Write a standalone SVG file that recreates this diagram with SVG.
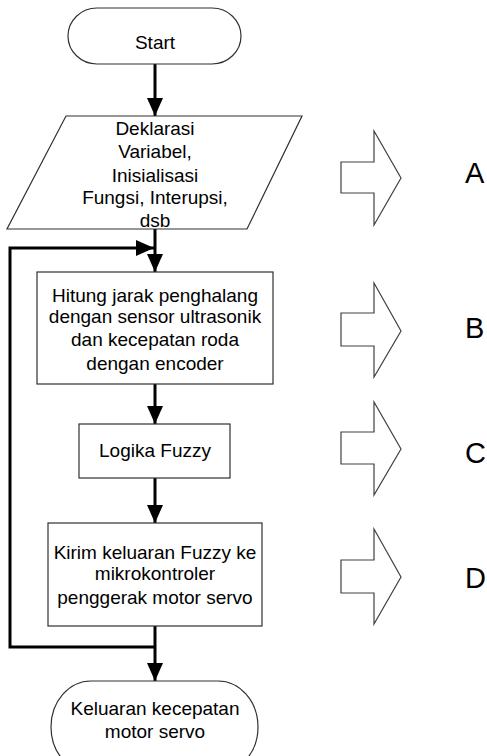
<svg xmlns="http://www.w3.org/2000/svg" width="487" height="756" viewBox="0 0 487 756">
  <style>
    .shape { fill: #ffffff; stroke: #303030; stroke-width: 1.2; }
    .block { fill: #ffffff; stroke: #404040; stroke-width: 1.2; }
    .flow { fill: none; stroke: #000000; stroke-width: 3; }
    .txt { font-family: "Liberation Sans", Arial, sans-serif; font-size: 19px; fill: #000000; text-anchor: middle; }
    .lbl { font-family: "Liberation Sans", Arial, sans-serif; font-size: 29px; fill: #000000; }
  </style>
  <defs>
    <marker id="head" markerUnits="userSpaceOnUse" markerWidth="18" markerHeight="16" refX="18" refY="8" orient="auto">
      <path d="M0,0 L18,8 L0,16 Z" fill="#000000"/>
    </marker>
  </defs>

  <!-- flow lines -->
  <g id="connectors">
    <line class="flow" x1="155" y1="64" x2="155" y2="116" marker-end="url(#head)"/>
    <line class="flow" x1="155" y1="229" x2="155" y2="272" marker-end="url(#head)"/>
    <line class="flow" x1="155" y1="384" x2="155" y2="424" marker-end="url(#head)"/>
    <line class="flow" x1="155" y1="478" x2="155" y2="523" marker-end="url(#head)"/>
    <line class="flow" x1="155" y1="626" x2="155" y2="681" marker-end="url(#head)"/>
    <polyline class="flow" points="155,647 10,647 10,248 154,248" marker-end="url(#head)"/>
  </g>

  <g id="start">
    <rect class="shape" x="68" y="8" width="173" height="56" rx="29" ry="28"/>
    <text class="txt" x="155" y="49">Start</text>
  </g>

  <g id="init">
    <polygon class="shape" points="66,116 302,116 247,229 7,229"/>
    <text class="txt" x="155" y="135">Deklarasi</text>
    <text class="txt" x="155" y="158">Variabel,</text>
    <text class="txt" x="155" y="182">Inisialisasi</text>
    <text class="txt" x="155" y="204">Fungsi, Interupsi,</text>
    <text class="txt" x="155" y="227">dsb</text>
  </g>

  <g id="measure">
    <rect class="shape" x="37" y="272" width="236" height="112"/>
    <text class="txt" x="155" y="302">Hitung jarak penghalang</text>
    <text class="txt" x="155" y="323">dengan sensor ultrasonik</text>
    <text class="txt" x="155" y="346">dan kecepatan roda</text>
    <text class="txt" x="155" y="370">dengan encoder</text>
  </g>

  <g id="fuzzy">
    <rect class="shape" x="79" y="424" width="151" height="54"/>
    <text class="txt" x="155" y="457">Logika Fuzzy</text>
  </g>

  <g id="send">
    <rect class="shape" x="48" y="523" width="214" height="103"/>
    <text class="txt" x="155" y="559">Kirim keluaran Fuzzy ke</text>
    <text class="txt" x="155" y="580">mikrokontroler</text>
    <text class="txt" x="155" y="604">penggerak motor servo</text>
  </g>

  <g id="output">
    <rect class="shape" x="51" y="681" width="207" height="92" rx="40" ry="46"/>
    <text class="txt" x="155" y="715">Keluaran kecepatan</text>
    <text class="txt" x="155" y="738">motor servo</text>
  </g>

  <!-- section markers -->
  <g id="mark-a">
    <polygon class="block" points="341,162 374,162 374,131 401,178 374,225 374,193 341,193"/>
    <text class="lbl" x="465" y="183">A</text>
  </g>
  <g id="mark-b">
    <polygon class="block" points="341,313 374,313 374,283 401,331 374,377 374,346 341,346"/>
    <text class="lbl" x="465" y="338">B</text>
  </g>
  <g id="mark-c">
    <polygon class="block" points="341,432 374,432 374,402 401,449 374,495 374,464 341,464"/>
    <text class="lbl" x="465" y="463">C</text>
  </g>
  <g id="mark-d">
    <polygon class="block" points="341,560 374,560 374,529 401,577 374,624 374,593 341,593"/>
    <text class="lbl" x="465" y="588">D</text>
  </g>
</svg>
